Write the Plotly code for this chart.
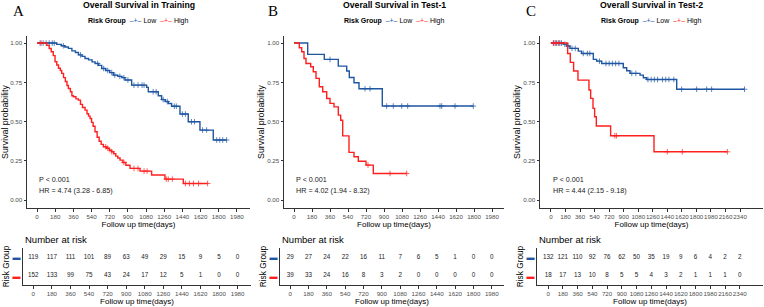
import plotly.graph_objects as go

# ---------------- data ----------------
titles = ["Overall Survival in Training", "Overall Survival in Test-1", "Overall Survival in Test-2"]
letters = ["A", "B", "C"]
pvals = ["P < 0.001", "P < 0.001", "P < 0.001"]
hrs = ["HR = 4.74 (3.28 - 6.85)", "HR = 4.02 (1.94 - 8.32)", "HR = 4.44 (2.15 - 9.18)"]

ticks_AB = [0, 180, 360, 540, 720, 900, 1080, 1260, 1440, 1620, 1800, 1980]
ticks_C = [0, 180, 360, 540, 720, 900, 1080, 1260, 1440, 1620, 1800, 1980, 2160, 2340]

# Panel A (Training)
A_low_t = [0, 195, 240, 275, 310, 345, 380, 410, 445, 475, 510, 545, 575, 610, 640, 680, 720, 756, 800, 840,
           871, 937, 1086, 1102, 1201, 1234, 1270, 1300, 1333, 1416, 1498, 1614, 1746]
A_low_s = [1.0, 0.992, 0.983, 0.975, 0.966, 0.950, 0.940, 0.925, 0.915, 0.902, 0.893, 0.880, 0.870, 0.858, 0.838,
           0.825, 0.812, 0.796, 0.788, 0.780, 0.765, 0.732, 0.718, 0.690, 0.665, 0.640, 0.628, 0.615, 0.598, 0.548,
           0.499, 0.446, 0.383]
A_low_end = 1878
A_low_cens = [30, 60, 90, 120, 150, 170, 260, 430, 600, 660, 700, 740, 770, 820, 860, 900, 960, 1000, 1040, 1060,
              1150, 1180, 1250, 1290, 1360, 1380, 1440, 1470, 1530, 1560, 1640, 1680, 1780, 1810, 1840, 1878]
A_high_t = [0, 96, 120, 140, 160, 178, 195, 212, 230, 244, 262, 280, 296, 310, 330, 345, 360, 385, 409, 430,
            450, 475, 495, 510, 525, 540, 555, 574, 595, 615, 635, 657, 690, 715, 739, 760, 780, 800, 822, 850,
            880, 921, 1020, 1135, 1267, 1449]
A_high_s = [1.0, 0.985, 0.965, 0.945, 0.920, 0.881, 0.860, 0.840, 0.825, 0.807, 0.780, 0.755, 0.730, 0.711, 0.690,
            0.665, 0.658, 0.645, 0.637, 0.610, 0.590, 0.573, 0.550, 0.535, 0.520, 0.495, 0.470, 0.435, 0.400, 0.375,
            0.355, 0.340, 0.330, 0.318, 0.308, 0.295, 0.280, 0.268, 0.255, 0.240, 0.222, 0.202, 0.185, 0.160, 0.134,
            0.106]
A_high_end = 1690
A_high_cens = [40, 680, 700, 740, 860, 960, 1000, 1060, 1090, 1280, 1300, 1340, 1470, 1510, 1550, 1600, 1690]
A_risk_low = [119, 117, 111, 101, 89, 63, 49, 29, 15, 9, 5, 0]
A_risk_high = [152, 133, 99, 75, 43, 24, 17, 12, 5, 1, 0, 0]

# Panel B (Test-1)
B_low_t = [0, 137, 303, 443, 527, 553, 600, 650, 883]
B_low_s = [1.0, 0.928, 0.896, 0.853, 0.822, 0.781, 0.747, 0.709, 0.599]
B_low_end = 1793
B_low_cens = [360, 710, 760, 927, 993, 1077, 1137, 1460, 1477, 1610, 1793]
B_high_t = [0, 53, 77, 100, 120, 167, 193, 220, 253, 287, 327, 360, 400, 443, 467, 487, 550, 600, 643, 720, 793]
B_high_s = [1.0, 0.970, 0.945, 0.902, 0.870, 0.849, 0.817, 0.775, 0.722, 0.690, 0.647, 0.616, 0.594, 0.541, 0.509,
            0.409, 0.304, 0.276, 0.248, 0.223, 0.170]
B_high_end = 1127
B_high_cens = [740, 960, 1127]
B_risk_low = [29, 27, 24, 22, 16, 11, 7, 6, 5, 1, 0, 0]
B_risk_high = [39, 33, 24, 16, 8, 3, 2, 0, 0, 0, 0, 0]

# Panel C (Test-2)
C_low_t = [0, 153, 194, 235, 338, 379, 524, 565, 627, 895, 937, 978, 1102, 1143, 1184, 1556]
C_low_s = [1.0, 0.993, 0.981, 0.966, 0.949, 0.934, 0.896, 0.885, 0.870, 0.843, 0.824, 0.807, 0.796, 0.779, 0.768,
           0.706]
C_low_end = 2395
C_low_cens = [30, 50, 70, 90, 110, 130, 170, 210, 260, 300, 400, 450, 480, 600, 680, 720, 760, 800, 840, 1000,
              1050, 1200, 1240, 1280, 1320, 1380, 1420, 1460, 1520, 1617, 1803, 1927, 1988, 2395]
C_high_t = [0, 206, 239, 280, 334, 470, 491, 520, 540, 561, 738, 1275]
C_high_s = [1.0, 0.934, 0.877, 0.822, 0.764, 0.701, 0.648, 0.584, 0.531, 0.472, 0.410, 0.308]
C_high_end = 2183
C_high_cens = [30, 60, 100, 790, 810, 1440, 1625, 2183]
C_risk_low = [132, 121, 110, 92, 76, 62, 50, 35, 19, 9, 6, 4, 2, 2]
C_risk_high = [18, 17, 13, 10, 8, 5, 5, 4, 3, 2, 1, 1, 1, 0]

# ---------------- style ----------------
FONT = "Arial, Liberation Sans, sans-serif"
BLUE = "#1F56A3"
RED = "#FF1F1F"
AXIS = "#333333"
TXT = "#4D4D4D"
W, H = 764, 307

panels = [
    dict(low=(A_low_t, A_low_s, A_low_end, A_low_cens), high=(A_high_t, A_high_s, A_high_end, A_high_cens),
         ticks=ticks_AB, rl=A_risk_low, rh=A_risk_high, xr=[-100, 2110],
         main_dom=[27, 250], risk_dom=[23, 251], letter_x=18),
    dict(low=(B_low_t, B_low_s, B_low_end, B_low_cens), high=(B_high_t, B_high_s, B_high_end, B_high_cens),
         ticks=ticks_AB, rl=B_risk_low, rh=B_risk_high, xr=[-100, 2100],
         main_dom=[284, 504], risk_dom=[280, 504], letter_x=273),
    dict(low=(C_low_t, C_low_s, C_low_end, C_low_cens), high=(C_high_t, C_high_s, C_high_end, C_high_cens),
         ticks=ticks_C, rl=C_risk_low, rh=C_risk_high, xr=[-136, 2624],
         main_dom=[540, 763], risk_dom=[537, 763], letter_x=531),
]


def step_at(ts, ss, t):
    v = ss[0]
    for ti, si in zip(ts, ss):
        if ti <= t:
            v = si
    return v


def px2x(p):
    return p / W


def py2y(p):
    return 1 - p / H


fig = go.Figure()
annotations = []
layout = {}

for i, p in enumerate(panels):
    nm = 2 * i + 1
    nr = 2 * i + 2
    xm, ym = f"x{nm}", f"y{nm}"
    xr_, yr_ = f"x{nr}", f"y{nr}"
    for key, col in (("low", BLUE), ("high", RED)):
        ts, ss, end, cens = p[key]
        fig.add_trace(go.Scatter(x=list(ts) + [end], y=list(ss) + [ss[-1]], mode="lines",
                                 line=dict(color=col, width=1.4, shape="hv"),
                                 xaxis=xm, yaxis=ym, showlegend=False, hoverinfo="skip"))
        fig.add_trace(go.Scatter(x=cens, y=[step_at(ts, ss, c) for c in cens], mode="markers",
                                 marker=dict(symbol="cross-thin", size=4, line=dict(color=col, width=0.9)),
                                 opacity=0.8,
                                 xaxis=xm, yaxis=ym, showlegend=False, hoverinfo="skip"))
    # risk table numbers
    fig.add_trace(go.Scatter(x=p["ticks"], y=[2] * len(p["ticks"]), mode="text",
                             text=[str(v) for v in p["rl"]], textfont=dict(family=FONT, size=6.3, color="#222"),
                             xaxis=xr_, yaxis=yr_, showlegend=False, hoverinfo="skip"))
    fig.add_trace(go.Scatter(x=p["ticks"], y=[1] * len(p["ticks"]), mode="text",
                             text=[str(v) for v in p["rh"]], textfont=dict(family=FONT, size=6.3, color="#222"),
                             xaxis=xr_, yaxis=yr_, showlegend=False, hoverinfo="skip"))

    md = [px2x(p["main_dom"][0]), px2x(p["main_dom"][1])]
    rd = [px2x(p["risk_dom"][0]), px2x(p["risk_dom"][1])]
    common_x = dict(showline=True, linecolor=AXIS, linewidth=1, ticks="outside", ticklen=2.5, tickcolor=AXIS,
                    tickvals=p["ticks"], ticktext=[str(t) for t in p["ticks"]], range=p["xr"], tickangle=0,
                    showgrid=False, zeroline=False, tickfont=dict(family=FONT, size=6.2, color=TXT))
    layout[f"xaxis{nm}"] = dict(common_x, domain=md, anchor=ym,
                                title=dict(text="Follow up time(days)", font=dict(family=FONT, size=8, color="#000"),
                                           standoff=1))
    layout[f"yaxis{nm}"] = dict(domain=[py2y(208), py2y(36)], anchor=xm, range=[-0.05, 1.045],
                                showline=True, linecolor=AXIS, linewidth=1, ticks="outside", ticklen=2.5,
                                tickcolor=AXIS, tickvals=[0, 0.25, 0.5, 0.75, 1.0],
                                ticktext=["0.00", "0.25", "0.50", "0.75", "1.00"], showgrid=False, zeroline=False,
                                tickfont=dict(family=FONT, size=6.2, color=TXT),
                                title=dict(text="Survival probability", font=dict(family=FONT, size=8.8, color="#000"),
                                           standoff=1))
    layout[f"xaxis{nr}"] = dict(common_x, domain=rd, anchor=yr_,
                                title=dict(text="Follow up time(days)", font=dict(family=FONT, size=8, color="#000"),
                                           standoff=1))
    layout[f"yaxis{nr}"] = dict(domain=[py2y(285), py2y(248)], anchor=xr_, range=[0.5, 2.5],
                                showline=True, linecolor=AXIS, linewidth=1, ticks="", showgrid=False, zeroline=False,
                                tickvals=[1, 2],
                                ticktext=[f"<span style='color:{RED}'>▬</span>", f"<span style='color:{BLUE}'>▬</span>"],
                                tickfont=dict(family=FONT, size=8),
                                title=dict(text="Risk Group", font=dict(family=FONT, size=8.3, color="#000"),
                                           standoff=1))
    cx = (md[0] + md[1]) / 2
    # title
    annotations.append(dict(text=f"<b>{titles[i]}</b>", x=cx, y=py2y(5), xref="paper", yref="paper",
                            showarrow=False, font=dict(family=FONT, size=8.7, color="#000"),
                            xanchor="center", yanchor="middle"))
    # legend (as text)
    annotations.append(dict(text=(f"<b>Risk Group</b>  <span style='color:{BLUE}'>–+–</span> Low  "
                                  f"<span style='color:{RED}'>–+–</span> High"),
                            x=cx, y=py2y(21), xref="paper", yref="paper", showarrow=False,
                            font=dict(family=FONT, size=7, color="#000"), xanchor="center", yanchor="middle"))
    # panel letter
    annotations.append(dict(text=letters[i], x=px2x(p["letter_x"]), y=py2y(11), xref="paper", yref="paper",
                            showarrow=False, font=dict(family="Liberation Serif, Times New Roman, serif", size=15,
                                                       color="#000"), xanchor="center", yanchor="middle"))
    # p value & HR
    annotations.append(dict(text=pvals[i], x=0, y=0.134, xref=xm, yref=ym, showarrow=False, xanchor="left",
                            yanchor="middle", font=dict(family=FONT, size=7.2, color="#222")))
    annotations.append(dict(text=hrs[i], x=0, y=0.064, xref=xm, yref=ym, showarrow=False, xanchor="left",
                            yanchor="middle", font=dict(family=FONT, size=7.2, color="#222")))
    # number at risk
    annotations.append(dict(text="Number at risk", x=rd[0], y=py2y(239), xref="paper", yref="paper",
                            showarrow=False, xanchor="left", yanchor="middle",
                            font=dict(family=FONT, size=9.5, color="#000")))

fig.update_layout(width=W, height=H, margin=dict(l=0, r=0, t=0, b=0), plot_bgcolor="white",
                  paper_bgcolor="white", showlegend=False, annotations=annotations, **layout)
fig.write_html("out.html")
